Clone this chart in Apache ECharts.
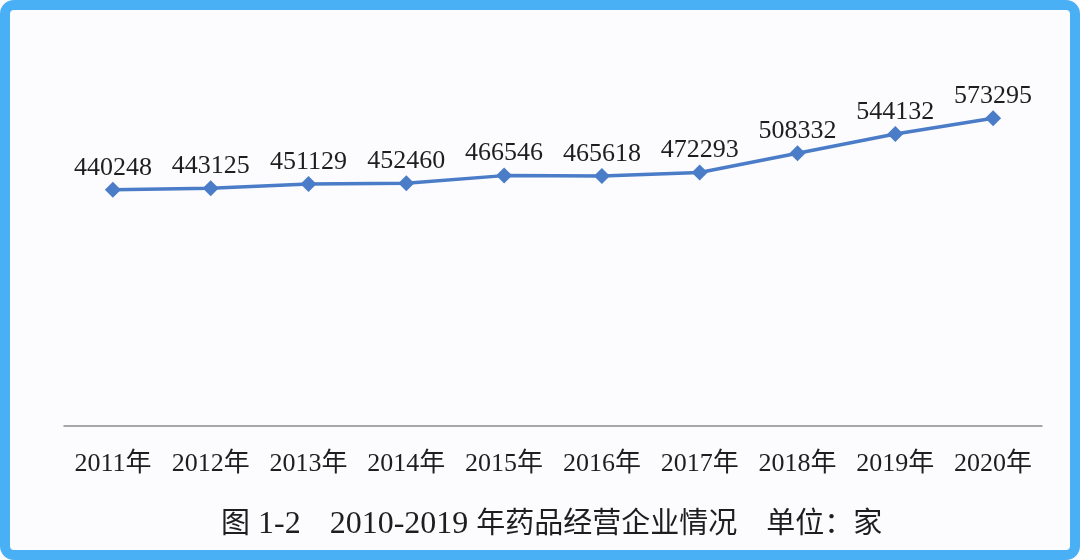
<!DOCTYPE html>
<html>
<head>
<meta charset="utf-8">
<script src="https://cdn.jsdelivr.net/npm/echarts@6/dist/echarts.min.js"></script>
<style>
html,body{margin:0;padding:0;background:#fcfbfe;}
#chart{position:absolute;left:0;top:0;width:1080px;height:560px;}
#frame{position:absolute;left:0;top:0;width:1080px;height:560px;box-sizing:border-box;border:10px solid #4ab0f5;border-radius:14px;pointer-events:none;}
</style>
</head>
<body>
<div id="chart"></div>
<div id="frame"></div>
<script>
const categories = ['2011年','2012年','2013年','2014年','2015年','2016年','2017年','2018年','2019年','2020年'];
const values = [440248, 443125, 451129, 452460, 466546, 465618, 472293, 508332, 544132, 573295];
const titleParts = [['c','图'], ['l',' 1-2'], ['c','\u3000'], ['l','2010-2019 '], ['c','年药品经营企业情况\u3000单位：家']];

const serif = '"Liberation Serif", "Times New Roman", "Noto Sans CJK SC", serif';
const chart = echarts.init(document.getElementById('chart'), null, {renderer: 'canvas'});
chart.setOption({
  backgroundColor: 'transparent',
  animation: false,
  title: {
    text: titleParts.map(p => '{' + p[0] + '|' + p[1] + '}').join(''),
    left: 216,
    top: 504,
    textStyle: {
      fontFamily: serif, fontSize: 29, fontWeight: 'normal', color: '#1e1e1e',
      rich: {
        c: {fontFamily: serif, fontSize: 29, color: '#1e1e1e'},
        l: {fontFamily: serif, fontSize: 32, color: '#1e1e1e'}
      }
    }
  },
  grid: {left: 64, right: 38, top: 104, bottom: 134},
  xAxis: {
    type: 'category',
    data: categories,
    boundaryGap: true,
    axisLine: {lineStyle: {color: '#8c8c8c', width: 1.5}},
    axisTick: {show: false},
    axisLabel: {interval: 0, hideOverlap: false, fontFamily: serif, fontSize: 26, color: '#1e1e1e', margin: 25}
  },
  yAxis: {
    type: 'value',
    min: 0,
    max: 600000,
    show: false,
    splitLine: {show: false}
  },
  series: [{
    type: 'line',
    data: values,
    symbol: 'diamond',
    symbolSize: 16,
    lineStyle: {color: '#4a7cc8', width: 3.5},
    itemStyle: {color: '#4a7cc8'},
    label: {show: true, position: 'top', distance: 1, fontFamily: serif, fontSize: 26, color: '#1e1e1e'}
  }]
});
</script>
</body>
</html>
